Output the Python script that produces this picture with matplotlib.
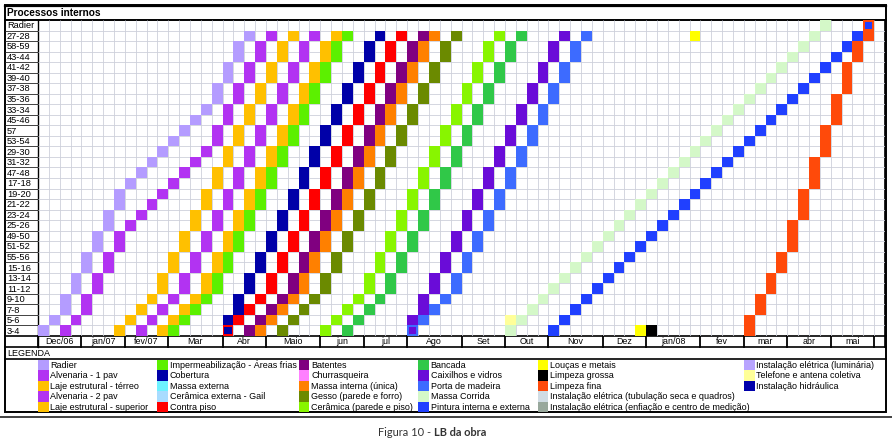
import matplotlib
matplotlib.use("Agg")
import matplotlib.pyplot as plt
from matplotlib.patches import Rectangle
from matplotlib.transforms import blended_transform_factory as blend

plt.rcParams['font.family'] = ['Liberation Sans', 'DejaVu Sans']

# ---------------- data ----------------
units_top_down = ['Radier', '27-28', '58-59', '43-44', '41-42', '39-40', '37-38', '35-36',
                  '33-34', '45-46', '57', '53-54', '29-30', '31-32', '47-48', '17-18',
                  '19-20', '21-22', '23-24', '25-26', '49-50', '51-52', '55-56', '15-16',
                  '13-14', '11-12', '9-10', '7-8', '5-6', '3-4']

months = ['Dec/06', 'jan/07', 'fev/07', 'Mar', 'Abr', 'Maio', 'jun', 'jul', 'Ago', 'Set',
          'Out', 'Nov', 'Dez', 'jan/08', 'fev', 'mar', 'abr', 'mai']
month_weeks = [4, 4, 4, 5, 4, 5, 4, 4, 5, 4, 4, 5, 4, 5, 4, 4, 4, 4]
n_weeks = 78

# week index of each activity per unit, listed from '3-4' (bottom) upwards
radier = [0, 1, 2, 2, 3, 3, 4, 4, 5, 5, 6, 6, 7, 7, 8, 9, 10, 11, 12, 13, 14, 15, 16, 16, 17, 17, 18, 18, 19]
alv1 = [2, 3, 4, 4, 5, 5, 6, 6, 7, 7, 8, 9, 10, 11, 12, 13, 14, 15, 16, 16, 17, 17, 18, 18, 19, 19, 20, 20, 21]
laje_terreo = [7, 8, 9, 10, 11, 11, 12, 12, 13, 13, 14, 14, 15, 15, 16, 16, 17, 17, 18, 18, 19, 19, 20, 20, 21, 21, 22, 22, 23]
alv2 = [9, 10, 11, 12, 13, 13, 14, 14, 15, 15, 16, 16, 17, 17, 18, 18, 19, 19, 20, 20, 21, 21, 22, 22, 23, 23, 24, 24, 25]
laje_sup = [11, 12, 13, 14, 15, 15, 16, 16, 17, 17, 18, 18, 19, 19, 20, 20, 21, 21, 22, 22, 23, 23, 24, 24, 25, 25, 26, 26, 27]
imperm = [12, 13, 14, 15, 16, 16, 17, 17, 18, 18, 19, 19, 20, 20, 21, 21, 22, 22, 23, 23, 24, 24, 25, 25, 26, 26, 27, 27, 28]
cobertura = [17, 17, 18, 18, 19, 19, 20, 20, 21, 21, 22, 22, 23, 23, 24, 24, 25, 25, 26, 26, 27, 27, 28, 28, 29, 29, 30, 30, 31]
contra_piso = [17, 18, 19, 20, 21, 21, 22, 22, 23, 23, 24, 24, 25, 25, 26, 26, 27, 27, 28, 28, 29, 29, 30, 30, 31, 31, 32, 32, 33]
batentes = [19, 20, 21, 22, 23, 23, 24, 24, 25, 25, 26, 26, 27, 27, 28, 28, 29, 29, 30, 30, 31, 31, 32, 32, 33, 33, 34, 34, 35]
massa_interna = [20, 21, 22, 23, 24, 24, 25, 25, 26, 26, 27, 27, 28, 28, 29, 29, 30, 30, 31, 31, 32, 32, 33, 33, 34, 34, 35, 35, 36]
gesso = [22, 23, 24, 25, 26, 26, 27, 27, 28, 28, 29, 29, 30, 30, 31, 31, 32, 32, 33, 33, 34, 34, 35, 35, 36, 36, 37, 37, 38]
ceramica = [26, 27, 28, 29, 30, 30, 31, 31, 32, 32, 33, 33, 34, 34, 35, 35, 36, 36, 37, 37, 38, 38, 39, 39, 40, 40, 41, 41, 42]
bancada = [28, 29, 30, 31, 32, 32, 33, 33, 34, 34, 35, 35, 36, 36, 37, 37, 38, 38, 39, 39, 40, 40, 41, 41, 42, 42, 43, 43, 44]
caixilhos = [34, 34, 35, 35, 36, 36, 37, 37, 38, 38, 39, 39, 40, 40, 41, 41, 42, 42, 43, 43, 44, 44, 45, 45, 46, 46, 47, 47, 48]
porta = [34, 35, 36, 37, 38, 38, 39, 39, 40, 40, 41, 41, 42, 42, 43, 43, 44, 44, 45, 45, 46, 46, 47, 47, 48, 48, 49, 49, 50]
massa_corrida = [43, 44, 45, 46, 47, 48, 49, 50, 51, 52, 53, 54, 55, 56, 57, 58, 59, 60, 61, 62, 63, 64, 65, 66, 67, 68, 69, 70, 71, 72]
pintura = [47, 48, 49, 50, 51, 52, 53, 54, 55, 56, 57, 58, 59, 60, 61, 62, 63, 64, 65, 66, 67, 68, 69, 70, 71, 72, 73, 74, 75, 76]
limpeza_fina = [65, 65, 66, 66, 67, 67, 68, 68, 69, 69, 69, 70, 70, 70, 71, 71, 71, 72, 72, 72, 73, 73, 73, 74, 74, 74, 75, 75, 76, 76]

loucas = [('27-28', 60), ('3-4', 55)]
limpeza_grossa = [('3-4', 56)]
telefone = [('5-6', 43)]

colors = {
    'Radier': '#b49cff', 'Alvenaria - 1 pav': '#b233f2', 'Laje estrutural - térreo': '#ffc000',
    'Alvenaria - 2 pav': '#b233f2', 'Laje estrutural - superior': '#ffc000',
    'Impermeabilização - Áreas frias': '#5cf000', 'Cobertura': '#0000a8', 'Massa externa': '#6ef2ff',
    'Cerâmica externa - Gail': '#a8dcff', 'Contra piso': '#ff0000',
    'Batentes': '#800080', 'Churrasqueira': '#ff80ff', 'Massa interna (única)': '#ff8000',
    'Gesso (parede e forro)': '#6b8a00', 'Cerâmica (parede e piso)': '#88f500',
    'Bancada': '#30c848', 'Caixilhos e vidros': '#6a0cd8', 'Porta de madeira': '#3d6bff',
    'Massa Corrida': '#d4f8c8', 'Pintura interna e externa': '#2040ff',
    'Louças e metais': '#ffff00', 'Limpeza grossa': '#000000', 'Limpeza fina': '#ff4a0a',
    'Instalação elétrica (tubulação seca e quadros)': '#d0dce4',
    'Instalação elétrica (enfiação e centro de medição)': '#98a89c',
    'Instalação elétrica (luminária)': '#b8a4ff', 'Telefone e antena coletiva': '#ffff99',
    'Instalação hidráulica': '#0000aa',
}

series = [
    ('Radier', radier), ('Alvenaria - 1 pav', alv1), ('Laje estrutural - térreo', laje_terreo),
    ('Alvenaria - 2 pav', alv2), ('Laje estrutural - superior', laje_sup),
    ('Impermeabilização - Áreas frias', imperm), ('Cobertura', cobertura), ('Contra piso', contra_piso),
    ('Batentes', batentes), ('Massa interna (única)', massa_interna), ('Gesso (parede e forro)', gesso),
    ('Cerâmica (parede e piso)', ceramica), ('Bancada', bancada), ('Caixilhos e vidros', caixilhos),
    ('Porta de madeira', porta), ('Massa Corrida', massa_corrida), ('Pintura interna e externa', pintura),
    ('Limpeza fina', limpeza_fina),
]
singles = [('Louças e metais', loucas), ('Limpeza grossa', limpeza_grossa),
           ('Telefone e antena coletiva', telefone)]

legend_cols = [
    (0, ['Radier', 'Alvenaria - 1 pav', 'Laje estrutural - térreo', 'Alvenaria - 2 pav', 'Laje estrutural - superior']),
    (11, ['Impermeabilização - Áreas frias', 'Cobertura', 'Massa externa', 'Cerâmica externa - Gail', 'Contra piso']),
    (24, ['Batentes', 'Churrasqueira', 'Massa interna (única)', 'Gesso (parede e forro)', 'Cerâmica (parede e piso)']),
    (35, ['Bancada', 'Caixilhos e vidros', 'Porta de madeira', 'Massa Corrida', 'Pintura interna e externa']),
    (46, ['Louças e metais', 'Limpeza grossa', 'Limpeza fina',
          'Instalação elétrica (tubulação seca e quadros)', 'Instalação elétrica (enfiação e centro de medição)']),
    (65, ['Instalação elétrica (luminária)', 'Telefone e antena coletiva', 'Instalação hidráulica']),
]

# ---------------- figure ----------------
W, H = 892, 441
fig = plt.figure(figsize=(W / 100, H / 100), dpi=100)
fr = fig.add_axes([0, 0, 1, 1])
fr.set_xlim(0, W)
fr.set_ylim(H, 0)
fr.axis('off')

X0, X1, Y0, Y1 = 38, 885, 20, 336
n_rows = len(units_top_down)
ax = fig.add_axes([X0 / W, 1 - Y1 / H, (X1 - X0) / W, (Y1 - Y0) / H])
ax.set_xlim(0, n_weeks)
ax.set_ylim(n_rows, 0)
ax.axis('off')

gc = '#cdd0da'
ax.vlines(range(1, n_weeks), 0, n_rows, color=gc, lw=0.6, zorder=1)
ax.hlines(range(1, n_rows), 0, n_weeks, color=gc, lw=0.6, zorder=1)

bottom_up = units_top_down[::-1]
cells = {}
for name, weeks in series:
    for i, w in enumerate(weeks):
        r = units_top_down.index(bottom_up[i])
        cells.setdefault((w, r), []).append(colors[name])
for name, pts in singles:
    for u, w in pts:
        cells.setdefault((w, units_top_down.index(u)), []).append(colors[name])

for (w, r), cl in cells.items():
    ax.add_patch(Rectangle((w, r), 1, 1, facecolor=cl[-1], edgecolor='none', zorder=2))
    for k, c in enumerate(reversed(cl[:-1])):
        ins = 0.17 * (k + 1)
        ax.add_patch(Rectangle((w + ins, r + ins), 1 - 2 * ins, 1 - 2 * ins,
                               facecolor=c, edgecolor='none', zorder=3))

# row labels
t_lab = blend(fr.transData, ax.transData)
for r, u in enumerate(units_top_down):
    fr.text(7, r + 0.55, u, transform=t_lab, va='center', ha='left', fontsize=6.7)
    if r > 0:
        fr.plot([5, X0], [r, r], transform=t_lab, color='#222222', lw=0.6)

# frame lines
k = 'black'
fr.add_patch(Rectangle((5, 5), 881, 407, fill=False, edgecolor=k, lw=1.4))
fr.plot([5, 886], [5.5, 5.5], color=k, lw=1.6)
fr.plot([5, 886], [19.8, 19.8], color=k, lw=1.4)
fr.plot([X0, X0], [20, 347], color=k, lw=1.0)
fr.plot([X1, X1], [20, 347], color=k, lw=1.2)
fr.plot([5, 886], [336, 336], color=k, lw=1.2)
fr.plot([5, 886], [347, 347], color=k, lw=1.2)
fr.plot([5, 886], [359, 359], color=k, lw=1.2)
fr.plot([0, 892], [416.5, 416.5], color='#333333', lw=1.3)

fr.text(7, 12.5, 'Processos internos', fontsize=7.3, fontweight='bold', va='center', ha='left')
fr.text(7, 353.5, 'LEGENDA', fontsize=6.5, va='center', ha='left')

# month row
t_m = blend(ax.transData, fr.transData)
start = 0
for m, nw in zip(months, month_weeks):
    fr.plot([start, start], [336, 347], transform=t_m, color=k, lw=1.3)
    fr.text(start + nw / 2, 342, m, transform=t_m, ha='center', va='center', fontsize=6.4)
    start += nw
fr.plot([start, start], [336, 347], transform=t_m, color=k, lw=1.3)

# legend
row_h = 10.5
for col, names in legend_cols:
    for j, nm in enumerate(names):
        y = 359.5 + j * row_h
        fr.add_patch(Rectangle((col, y), 1, row_h, transform=t_m, facecolor=colors[nm],
                               edgecolor='none'))
        fr.text(col + 1.15, y + row_h / 2 + 0.3, nm, transform=t_m, fontsize=6.5,
                va='center', ha='left')

# caption
fr.text(433.5, 432, 'Figura 10 - ', family=['Lato', 'DejaVu Sans'], fontsize=7.9,
        color='#333333', ha='right', va='center')
fr.text(434.5, 432, 'LB da obra', family=['Lato', 'DejaVu Sans'], fontsize=7.9,
        fontweight='bold', color='#333333', ha='left', va='center')

fig.savefig('out.png', dpi=100)
